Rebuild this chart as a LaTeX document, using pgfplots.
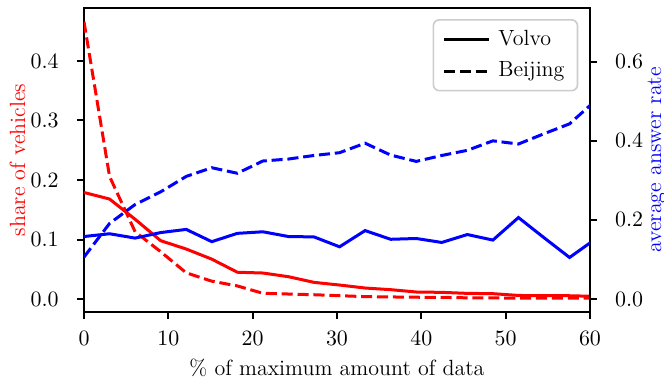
\documentclass[border=0pt]{standalone}
\usepackage{pgfplots}
\pgfplotsset{compat=1.18}
\pgfplotstableread{
x      vs      bs      va     ba
0.000  0.179   0.466   0.158  0.106
3.030  0.168   0.206   0.165  0.191
6.061  0.134   0.113   0.154  0.239
9.091  0.098   0.0795  0.168  0.271
12.121 0.084   0.044   0.176  0.310
15.152 0.067   0.030   0.145  0.332
18.182 0.045   0.022   0.166  0.318
21.212 0.0437  0.0096  0.170  0.349
24.242 0.0375  0.0084  0.158  0.354
27.273 0.028   0.0072  0.157  0.363
30.303 0.0235  0.0056  0.132  0.370
33.333 0.0185  0.0040  0.173  0.394
36.364 0.0157  0.0035  0.151  0.364
39.394 0.0118  0.0030  0.153  0.348
42.424 0.0112  0.0028  0.143  0.363
45.455 0.0095  0.0020  0.163  0.376
48.485 0.0090  0.0018  0.149  0.400
51.515 0.0060  0.0016  0.206  0.392
54.545 0.0055  0.0015  0.155  0.418
57.576 0.0055  0.0014  0.105  0.443
60.606 0.0045  0.0013  0.151  0.501
}\data
\begin{document}
\fontsize{11}{13.2}\selectfont
\begin{tikzpicture}[font=\fontsize{11}{13.2}\selectfont]
\pgfplotsset{
  base/.style={
    scale only axis, width=253pt, height=152pt,
    xmin=0, xmax=60,
    tick align=outside, major tick length=3.5pt,
    every tick/.style={black, line width=1pt},
    axis line style={line width=1.1pt},
    tick label style={font=\fontsize{11}{13.2}\selectfont},
    label style={font=\fontsize{11}{13.2}\selectfont},
  },
  sol/.style={line width=1.5pt},
  dsh/.style={line width=1.5pt, dash pattern=on 5.55pt off 2.4pt},
}
\begin{axis}[base, name=ax,
  ymin=-0.0218, ymax=0.489,
  xtick={0,10,20,30,40,50,60}, ytick={0,0.1,0.2,0.3,0.4},
  xtick pos=bottom, ytick pos=left,
  yticklabel style={/pgf/number format/fixed, /pgf/number format/fixed zerofill, /pgf/number format/precision=1, xshift=-5.3pt},
  xticklabel style={yshift=-2.5pt},
  every axis x label/.style={at={([yshift=-28pt]axis description cs:0.5,0)}, anchor=center},
  every axis y label/.style={at={([xshift=-33.3pt]axis description cs:0,0.5)}, anchor=center, rotate=90, red},
  xlabel={\% of maximum amount of data},
  ylabel={share of vehicles},
]
\addplot[red, sol] table[x=x, y=vs] {\data};
\addplot[red, dsh] table[x=x, y=bs] {\data};
\end{axis}
\begin{axis}[base,
  ymin=-0.0329, ymax=0.736,
  axis x line=none, axis y line*=right,
  ytick={0,0.2,0.4,0.6}, ytick pos=right,
  yticklabel style={/pgf/number format/fixed, /pgf/number format/fixed zerofill, /pgf/number format/precision=1, xshift=5.2pt},
  every axis y label/.style={at={([xshift=33.3pt]axis description cs:1,0.5)}, anchor=center, rotate=90, blue},
  ylabel={average answer rate},
  legend style={at={(1,1)}, anchor=north east, xshift=-5.85pt, yshift=-5.5pt,
    draw=black!20, rounded corners=3pt, fill=white, line width=0.8pt,
    inner xsep=4.5pt, inner ysep=3.2pt, row sep=2.6pt,
    font=\fontsize{11}{13.2}\selectfont, cells={anchor=west}},
  legend image code/.code={\draw[#1] (0pt,0pt) -- (22.5pt,0pt); \path (24.5pt,0pt);},
]
\addplot[blue, sol, forget plot] table[x=x, y=va] {\data};
\addplot[blue, dsh, forget plot] table[x=x, y=ba] {\data};
\addlegendimage{black, sol}
\addlegendentry{Volvo}
\addlegendimage{black, dsh}
\addlegendentry{Beijing}
\end{axis}
\pgfresetboundingbox
\useasboundingbox ([shift={(-42pt,-33.5pt)}]ax.south west) rectangle ([shift={(37pt,4pt)}]ax.north east);
\end{tikzpicture}
\end{document}
